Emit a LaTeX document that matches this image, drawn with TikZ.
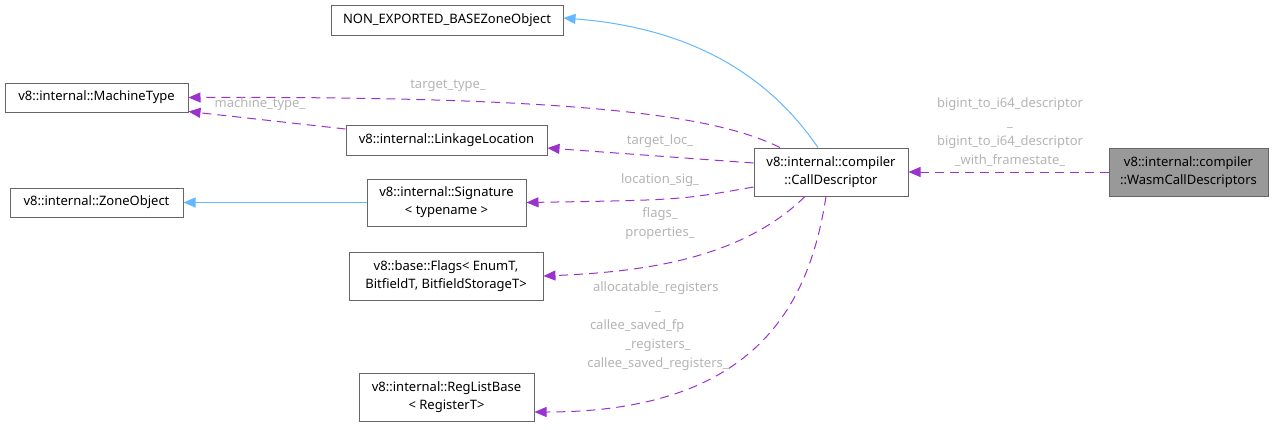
\documentclass[tikz,border=0pt]{standalone}
\usepackage{fontspec}
\setmainfont{Noto Sans}
\usetikzlibrary{arrows.meta}
\definecolor{boxgray}{HTML}{666666}
\definecolor{inhblue}{HTML}{63B8FF}
\definecolor{usepurple}{HTML}{9A32CD}
\definecolor{labelgray}{HTML}{B4B4B4}
\definecolor{focusfill}{HTML}{999999}
\tikzset{
  box/.style={draw=boxgray, fill=white, line width=1pt, inner sep=0pt, align=center,
              font=\fontsize{13pt}{18pt}\selectfont},
  inh/.style={draw=inhblue, line width=1pt, -{Triangle[length=12pt,width=10pt]}},
  use/.style={draw=usepurple, line width=1pt, dash pattern=on 9pt off 6pt,
              -{Triangle[length=12pt,width=10pt]}},
  lbl/.style={text=labelgray, inner sep=0pt, align=center,
              font=\fontsize{13pt}{19pt}\selectfont},
}
\begin{document}
\begin{tikzpicture}[x=1pt,y=-1pt]
\useasboundingbox (0,0) rectangle (1274,429);
% nodes
\node[box, minimum width=232pt, minimum height=30pt] (ne) at (447,20) {NON\_EXPORTED\_BASEZoneObject};
\node[box, minimum width=183pt, minimum height=29pt] (mt) at (96.5,97.5) {v8::internal::MachineType};
\node[box, minimum width=201pt, minimum height=30pt] (ll) at (446.5,140) {v8::internal::LinkageLocation};
\node[box, minimum width=173pt, minimum height=29pt] (zo) at (96.5,202.5) {v8::internal::ZoneObject};
\node[box, minimum width=159pt, minimum height=47pt] (sig) at (446.5,202.5) {v8::internal::Signature\\{<} typename {>}};
\node[box, minimum width=194pt, minimum height=48pt] (fl) at (446,276) {v8::base::Flags{<} EnumT,\\ BitfieldT, BitfieldStorageT{>}};
\node[box, minimum width=175pt, minimum height=48pt] (rl) at (446.5,397) {v8::internal::RegListBase\\{<} RegisterT{>}};
\node[box, minimum width=154pt, minimum height=48pt] (cd) at (831,172) {v8::internal::compiler\\::CallDescriptor};
\node[box, fill=focusfill, minimum width=159pt, minimum height=48pt] (wc) at (1188.5,172) {v8::internal::compiler\\::WasmCallDescriptors};
% inheritance
\draw[inh] ([xshift=-13pt]cd.north) .. controls (785,100) and (720,30) .. ([yshift=2pt]ne.east);
\draw[inh] (sig.west) -- (zo.east);
% usage
\draw[use] (wc.west) -- (cd.east);
\draw[use] ([xshift=-51pt]cd.north) .. controls (720,118) and (600,96) .. (mt.east);
\draw[use] ([yshift=11pt]ll.west) -- ([yshift=-14pt]mt.east);
\draw[use] ([yshift=9pt]cd.west) -- ([yshift=-8pt]ll.east);
\draw[use] ([yshift=-15pt]cd.west) .. controls (680,200) .. (sig.east);
\draw[use] ([xshift=-26pt]cd.south) .. controls (740,260) and (640,272) .. (fl.east);
\draw[use] ([xshift=-5pt]cd.south) .. controls (810,300) and (760,412) .. ([yshift=-15pt]rl.east);
% labels
\node[lbl] (l1) at (1010,132.5) {bigint\_to\_i64\_descriptor\\\_\\bigint\_to\_i64\_descriptor\\\_with\_framestate\_};
\node[lbl] (l2) at (448,86) {target\_type\_};
\node[lbl] (l3) at (260,104) {machine\_type\_};
\node[lbl] (l4) at (660,141) {target\_loc\_};
\node[lbl] (l5) at (660,180) {location\_sig\_};
\node[lbl] (l6) at (660,224) {flags\_\\properties\_};
\node[lbl] (l7) at (658,326) {\makebox[136pt][l]{\hspace*{3pt}allocatable\_registers}\\\_\\\makebox[136pt][l]{callee\_saved\_fp}\\\_registers\_\\callee\_saved\_registers\_};
\end{tikzpicture}
\end{document}
